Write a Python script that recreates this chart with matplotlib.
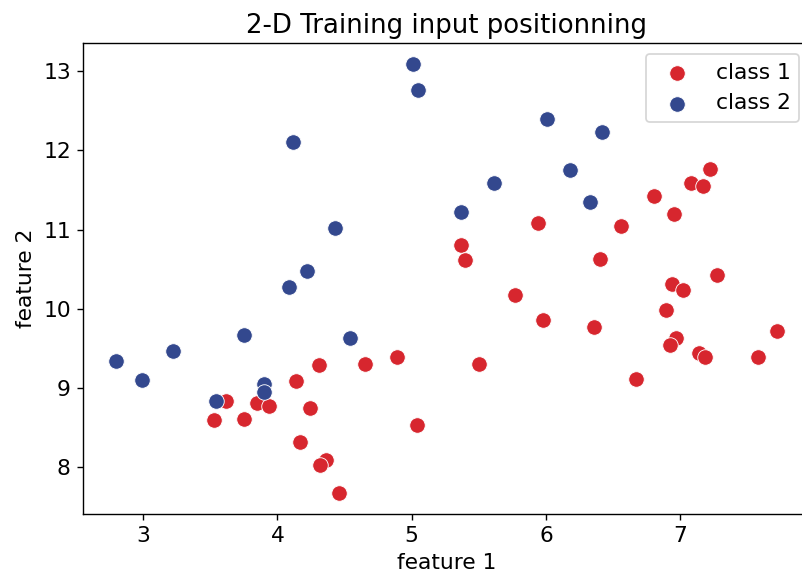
import matplotlib
matplotlib.use("Agg")
import matplotlib.pyplot as plt

class1_x = [7.22, 7.08, 7.17, 6.80, 6.95, 5.94, 6.56, 5.37, 5.40, 6.40, 7.27, 6.94, 7.02, 5.77,
            6.89, 5.98, 6.36, 7.72, 6.97, 6.92, 7.14, 7.18, 7.58, 5.50, 6.67, 4.89, 4.31, 4.65,
            4.14, 3.62, 3.85, 3.94, 4.24, 3.53, 3.75, 4.17, 4.36, 4.32, 4.46, 5.04]
class1_y = [11.76, 11.59, 11.55, 11.43, 11.20, 11.08, 11.05, 10.80, 10.61, 10.63, 10.43, 10.31,
            10.24, 10.17, 9.98, 9.85, 9.77, 9.72, 9.63, 9.54, 9.44, 9.39, 9.39, 9.30, 9.11, 9.39,
            9.28, 9.30, 9.08, 8.83, 8.81, 8.77, 8.74, 8.59, 8.60, 8.31, 8.08, 8.02, 7.67, 8.52]

class2_x = [5.01, 5.05, 4.12, 4.43, 4.22, 6.01, 6.42, 6.18, 5.61, 6.33, 5.37, 4.09, 3.75, 4.54,
            3.22, 2.80, 2.99, 3.90, 3.90, 3.54]
class2_y = [13.09, 12.77, 12.11, 11.02, 10.47, 12.40, 12.24, 11.75, 11.59, 11.35, 11.22, 10.27,
            9.67, 9.63, 9.46, 9.33, 9.09, 9.05, 8.95, 8.83]

labels = ["class 1", "class 2"]
red = "#d7262e"
blue = "#33488e"

dpi = 125
fig = plt.figure(figsize=(802 / dpi, 579 / dpi), dpi=dpi)
ax = fig.add_axes([83 / 802, 65 / 579, 727 / 802, 471 / 579])
ax.scatter(class1_x, class1_y, s=80, c=red, edgecolors="white", linewidths=0.5, label=labels[0])
ax.scatter(class2_x, class2_y, s=80, c=blue, edgecolors="white", linewidths=0.5, label=labels[1])
ax.set_xlim(2.553, 7.965)
ax.set_ylim(7.40, 13.36)
ax.set_xticks([3, 4, 5, 6, 7])
ax.set_yticks([8, 9, 10, 11, 12, 13])
ax.tick_params(labelsize=12.5)
ax.set_xlabel("feature 1", fontsize=12.5)
ax.set_ylabel("feature 2", fontsize=12.5)
ax.set_title("2-D Training input positionning", fontsize=15)
ax.legend(loc="upper right", fontsize=12.5)
fig.savefig("out.png", dpi=dpi)
